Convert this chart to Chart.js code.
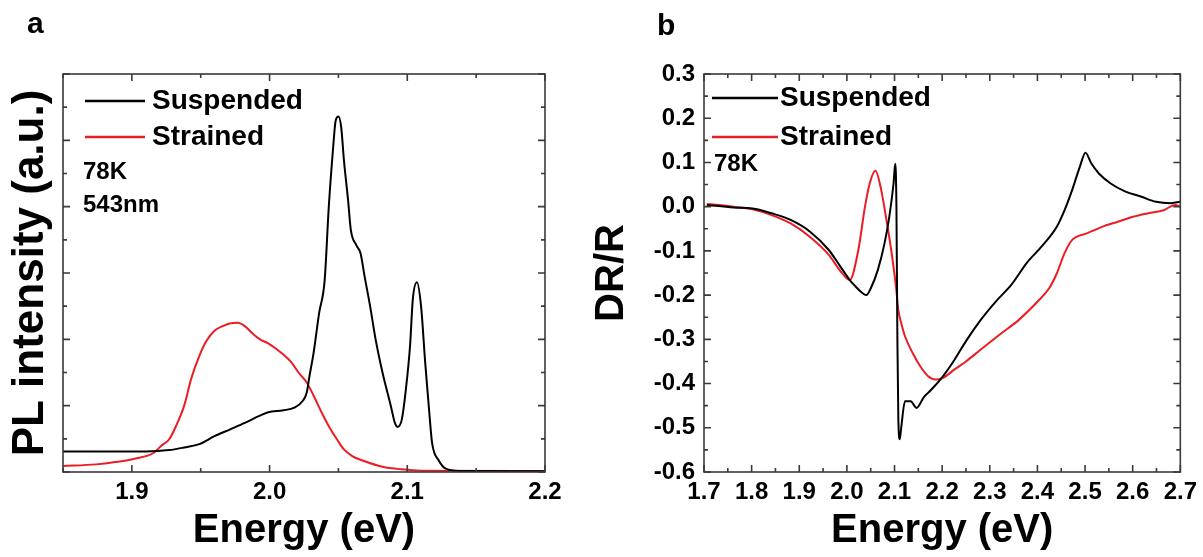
<!DOCTYPE html>
<html>
<head>
<meta charset="utf-8">
<script src="https://cdn.jsdelivr.net/npm/chart.js@4.4.1/dist/chart.umd.min.js"></script>
<style>
  html, body { margin: 0; padding: 0; background: #fff; }
  body { width: 1203px; height: 557px; position: relative; overflow: hidden; }
  canvas { position: absolute; top: 0; }
  #plChart { left: 0; }
  #drChart { left: 590px; }
</style>
</head>
<body>
<canvas id="plChart" width="600" height="557"></canvas>
<canvas id="drChart" width="613" height="557"></canvas>
<script>
const FONT = "'Liberation Sans', Arial, sans-serif";
const RED = '#ec1c24';

// (a) PL spectra, 78K, 543nm excitation
const plSuspendedE = [1.85, 1.88, 1.91, 1.927, 1.938, 1.949, 1.96, 1.971, 1.982, 1.993, 1.999, 2.01, 2.018, 2.024, 2.027, 2.029, 2.032, 2.036, 2.04, 2.043, 2.046, 2.048, 2.05, 2.052, 2.054, 2.057, 2.059, 2.063, 2.066, 2.069, 2.073, 2.077, 2.082, 2.088, 2.091, 2.093, 2.096, 2.099, 2.102, 2.104, 2.107, 2.11, 2.113, 2.116, 2.118, 2.123, 2.128, 2.138, 2.2];
const plSuspendedI = [0.31, 0.31, 0.31, 0.33, 0.37, 0.42, 0.54, 0.64, 0.74, 0.85, 0.9, 0.93, 0.97, 1.07, 1.2, 1.45, 1.8, 2.4, 2.89, 4.0, 4.85, 5.3, 5.36, 5.2, 4.7, 4.1, 3.65, 3.42, 3.3, 2.95, 2.5, 2.0, 1.5, 1.0, 0.74, 0.68, 0.79, 1.25, 1.9, 2.6, 2.86, 2.5, 1.65, 0.89, 0.44, 0.17, 0.05, 0.015, 0.01];
const plStrainedE = [1.85, 1.874, 1.888, 1.902, 1.916, 1.921, 1.927, 1.932, 1.938, 1.943, 1.949, 1.954, 1.96, 1.966, 1.971, 1.977, 1.982, 1.988, 1.993, 1.999, 2.004, 2.01, 2.016, 2.021, 2.027, 2.032, 2.038, 2.043, 2.049, 2.054, 2.06, 2.068, 2.082, 2.096, 2.11, 2.2];
const plStrainedI = [0.09, 0.115, 0.15, 0.2, 0.29, 0.39, 0.49, 0.69, 1.0, 1.4, 1.75, 1.97, 2.13, 2.2, 2.24, 2.25, 2.2, 2.08, 2.0, 1.94, 1.87, 1.77, 1.65, 1.5, 1.35, 1.15, 0.89, 0.69, 0.49, 0.34, 0.24, 0.17, 0.08, 0.04, 0.02, 0.015];
const plTicksX = [1.9, 2.0, 2.1, 2.2];
const plTicksY = [0, 1, 2, 3, 4, 5, 6];

// (b) differential reflectance
const drSuspendedE = [1.706, 1.762, 1.802, 1.842, 1.882, 1.922, 1.962, 1.986, 2.006, 2.016, 2.03, 2.041, 2.05, 2.065, 2.079, 2.089, 2.098, 2.1015, 2.104, 2.106, 2.108, 2.111, 2.114, 2.122, 2.134, 2.146, 2.162, 2.178, 2.202, 2.226, 2.25, 2.281, 2.313, 2.345, 2.377, 2.409, 2.441, 2.457, 2.473, 2.489, 2.501, 2.513, 2.529, 2.553, 2.585, 2.617, 2.649, 2.681, 2.7];
const drSuspendedV = [0.004, -0.002, -0.004, -0.015, -0.03, -0.056, -0.098, -0.135, -0.166, -0.178, -0.193, -0.2, -0.185, -0.143, -0.083, -0.023, 0.053, 0.097, 0.0, -0.3, -0.48, -0.526, -0.5, -0.44, -0.44, -0.455, -0.43, -0.413, -0.383, -0.346, -0.304, -0.256, -0.214, -0.177, -0.128, -0.09, -0.045, -0.008, 0.038, 0.09, 0.122, 0.098, 0.075, 0.053, 0.034, 0.023, 0.011, 0.008, 0.011];
const drStrainedE = [1.706, 1.762, 1.802, 1.842, 1.882, 1.922, 1.962, 1.986, 2.006, 2.024, 2.038, 2.048, 2.06, 2.072, 2.083, 2.093, 2.103, 2.108, 2.114, 2.122, 2.138, 2.154, 2.17, 2.186, 2.202, 2.226, 2.25, 2.281, 2.321, 2.361, 2.401, 2.425, 2.441, 2.457, 2.473, 2.505, 2.537, 2.569, 2.601, 2.633, 2.665, 2.689, 2.7];
const drStrainedV = [0.006, 0, -0.006, -0.019, -0.038, -0.068, -0.109, -0.145, -0.166, -0.098, 0, 0.053, 0.081, 0.038, -0.03, -0.098, -0.181, -0.234, -0.263, -0.293, -0.331, -0.361, -0.383, -0.391, -0.387, -0.368, -0.35, -0.323, -0.289, -0.256, -0.214, -0.184, -0.15, -0.105, -0.075, -0.06, -0.045, -0.034, -0.023, -0.015, -0.008, 0.004, 0];
const drTicksX = [1.7, 1.8, 1.9, 2.0, 2.1, 2.2, 2.3, 2.4, 2.5, 2.6, 2.7];
const drTicksY = [-0.6, -0.5, -0.4, -0.3, -0.2, -0.1, 0, 0.1, 0.2, 0.3];

function zip(xs, ys) {
    return xs.map((x, i) => ({ x: x, y: ys[i] }));
}

function fmt(v) {
    return Math.abs(v) < 1e-9 ? '0.0' : v.toFixed(1);
}

// closed box with inward ticks on all four sides, minor ticks halfway
const frameTicks = {
    id: 'frameTicks',
    afterDatasetsDraw(chart) {
        const { ctx, chartArea: a, scales } = chart;
        ctx.save();
        ctx.strokeStyle = '#3a3a3a';
        ctx.lineWidth = 1.6;
        ctx.beginPath();
        ['x', 'y'].forEach(id => {
            const s = scales[id];
            const vals = s.ticks.map(t => t.value);
            const step = vals[1] - vals[0];
            const minors = vals.map(v => v - step / 2).concat([vals[vals.length - 1] + step / 2]);
            const mark = (v, len) => {
                if (v < s.min - 1e-9 || v > s.max + 1e-9) return;
                const p = s.getPixelForValue(v);
                if (id === 'x') {
                    ctx.moveTo(p, a.bottom); ctx.lineTo(p, a.bottom - len);
                    ctx.moveTo(p, a.top); ctx.lineTo(p, a.top + len);
                } else {
                    ctx.moveTo(a.left, p); ctx.lineTo(a.left + len, p);
                    ctx.moveTo(a.right, p); ctx.lineTo(a.right - len, p);
                }
            };
            vals.forEach(v => mark(v, 7));
            minors.forEach(v => mark(v, 4));
        });
        ctx.stroke();
        ctx.strokeRect(a.left, a.top, a.right - a.left, a.bottom - a.top);
        ctx.restore();
    }
};

// legend rows, side notes and panel letter
const keyNotes = {
    id: 'keyNotes',
    afterDraw(chart, args, o) {
        const ctx = chart.ctx;
        ctx.save();
        ctx.textBaseline = 'middle';
        ctx.fillStyle = '#000';
        ctx.font = 'bold ' + o.size + 'px ' + FONT;
        chart.data.datasets.forEach((ds, i) => {
            const y = o.rows[i];
            ctx.strokeStyle = ds.borderColor;
            ctx.lineWidth = 2.4;
            ctx.beginPath();
            ctx.moveTo(o.x0, y);
            ctx.lineTo(o.x1, y);
            ctx.stroke();
            ctx.fillText(ds.label, o.x1 + o.gap, y);
        });
        ctx.font = 'bold ' + o.noteSize + 'px ' + FONT;
        o.notes.forEach(n => ctx.fillText(n.text, n.x, n.y));
        ctx.font = 'bold ' + o.panelSize + 'px ' + FONT;
        ctx.fillText(o.panel, o.panelX, o.panelY);
        ctx.restore();
    }
};

function axisTitle(text, size, padding) {
    return { display: true, text: text, color: '#000', font: { family: FONT, size: size, weight: 'bold' }, padding: padding };
}

function tickFont() {
    return { family: FONT, size: 24, weight: 'bold' };
}

function makeChart(id, cfg) {
    return new Chart(document.getElementById(id), {
        type: 'line',
        data: {
            datasets: [
                { label: 'Suspended', data: cfg.black, borderColor: '#000', borderWidth: 2 },
                { label: 'Strained', data: cfg.red, borderColor: RED, borderWidth: 2 }
            ]
        },
        options: {
            responsive: false,
            animation: false,
            devicePixelRatio: 1,
            layout: { padding: cfg.padding },
            elements: {
                point: { radius: 0 },
                line: { cubicInterpolationMode: 'monotone' }
            },
            scales: {
                x: {
                    type: 'linear',
                    min: cfg.xMin,
                    max: cfg.xMax,
                    afterFit: s => { s.height = 85; },
                    afterBuildTicks: s => { s.ticks = cfg.xTicks.map(v => ({ value: v })); },
                    grid: { display: false, drawTicks: false },
                    border: { display: false },
                    ticks: { color: '#000', font: tickFont(), padding: 6, maxRotation: 0, autoSkip: false, callback: fmt },
                    title: axisTitle('Energy (eV)', 40, { top: 0, bottom: 2 })
                },
                y: {
                    type: 'linear',
                    min: cfg.yMin,
                    max: cfg.yMax,
                    afterFit: s => { s.width = cfg.yWidth; },
                    afterBuildTicks: s => { s.ticks = cfg.yTicks.map(v => ({ value: v })); },
                    grid: { display: false, drawTicks: false },
                    border: { display: false },
                    ticks: { display: cfg.yLabels, color: '#000', font: tickFont(), padding: 9, autoSkip: false, callback: fmt },
                    title: axisTitle(cfg.yTitle, cfg.yTitleSize, { top: cfg.yTitlePad, bottom: 0 })
                }
            },
            plugins: {
                legend: { display: false },
                tooltip: { enabled: false },
                keyNotes: cfg.key
            }
        },
        plugins: [frameTicks, keyNotes]
    });
}

makeChart('plChart', {
    black: zip(plSuspendedE, plSuspendedI),
    red: zip(plStrainedE, plStrainedI),
    xMin: 1.85, xMax: 2.2, yMin: 0, yMax: 6,
    xTicks: plTicksX, yTicks: plTicksY, yLabels: false,
    padding: { left: 0, top: 74, right: 55, bottom: 0 },
    yWidth: 63,
    yTitle: 'PL intensity (a.u.)', yTitleSize: 44, yTitlePad: 4,
    key: {
        x0: 85, x1: 145, gap: 7, rows: [101, 137], size: 28,
        noteSize: 24, notes: [{ text: '78K', x: 83, y: 172 }, { text: '543nm', x: 83, y: 205 }],
        panel: 'a', panelX: 27, panelY: 25, panelSize: 30
    }
});

makeChart('drChart', {
    black: zip(drSuspendedE, drSuspendedV),
    red: zip(drStrainedE, drStrainedV),
    xMin: 1.7, xMax: 2.7, yMin: -0.6, yMax: 0.3,
    xTicks: drTicksX, yTicks: drTicksY, yLabels: true,
    padding: { left: 0, top: 74, right: 17, bottom: 0 },
    yWidth: 114,
    yTitle: 'DR/R', yTitleSize: 40, yTitlePad: -2,
    key: {
        x0: 122, x1: 188, gap: 2, rows: [98, 137], size: 28,
        noteSize: 24, notes: [{ text: '78K', x: 124, y: 164 }],
        panel: 'b', panelX: 67, panelY: 27, panelSize: 30
    }
});
</script>
</body>
</html>
